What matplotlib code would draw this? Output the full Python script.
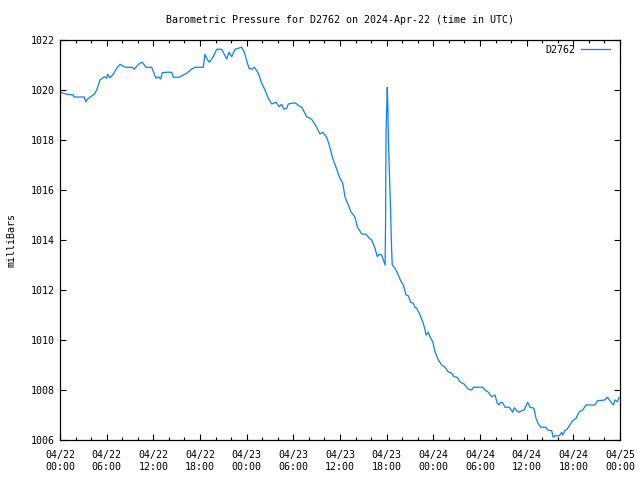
import matplotlib
matplotlib.use("Agg")
import matplotlib.pyplot as plt
from matplotlib.ticker import MultipleLocator

# hours since 2024-04-22 00:00 UTC
hours = [0.0, 0.42, 0.86, 1.71, 1.8, 3.12, 3.3, 3.64, 4.41, 4.72, 5.14, 5.7, 6.0, 6.13, 6.43,
         6.85, 7.29, 7.71, 8.36, 9.3, 9.55, 10.07, 10.58, 11.06, 11.79, 12.34, 12.64, 12.95,
         13.15, 13.72, 14.36, 14.57, 15.3, 15.85, 16.29, 16.93, 17.36, 18.42, 18.64, 18.86,
         19.2, 19.71, 20.15, 20.79, 21.43, 21.73, 22.08, 22.5, 23.36, 23.7, 23.91, 24.3,
         24.65, 24.98, 25.5, 25.93, 26.36, 26.78, 27.22, 27.77, 28.2, 28.5, 28.8, 29.15,
         29.35, 30.21, 30.77, 31.08, 31.72, 32.36, 33.0, 33.43, 33.78, 34.29, 34.62, 35.06,
         35.49, 35.91, 36.35, 36.64, 37.07, 37.41, 37.93, 38.22, 38.79, 39.34, 39.77, 40.08,
         40.5, 40.8, 41.05, 41.36, 41.57, 41.8,
         41.86, 41.92, 42.08, 42.15, 42.22, 42.36, 42.5, 42.63, 42.72,
         43.07, 43.37, 43.71, 43.8, 44.14, 44.49, 44.78, 45.09, 45.42, 45.64, 45.86, 46.29,
         46.71, 46.93, 47.06, 47.35, 47.57, 47.92, 48.21, 48.64, 49.07, 49.5, 49.92, 50.36,
         50.66, 51.08, 51.43, 51.94, 52.5, 52.93, 53.14, 54.35, 54.64, 55.07, 55.5, 55.93,
         56.22, 56.44, 56.66, 56.92, 57.21, 57.77, 58.2, 58.41, 58.72, 59.05, 59.36, 59.66,
         60.13, 60.43, 60.94, 61.2, 61.5, 61.84, 62.49, 62.7, 63.22, 63.42, 63.64, 64.2,
         64.5, 64.63, 64.93, 65.22, 65.48, 65.92, 66.34, 66.77, 67.2, 67.63, 68.79, 69.08,
         70.07, 70.37, 70.71, 71.14, 71.36, 71.65, 71.9]

pressure = [1019.91, 1019.87, 1019.83, 1019.8, 1019.72, 1019.72, 1019.53, 1019.67, 1019.83,
            1020.0, 1020.4, 1020.53, 1020.47, 1020.63, 1020.49, 1020.63, 1020.87, 1021.03,
            1020.91, 1020.91, 1020.83, 1021.03, 1021.11, 1020.91, 1020.91, 1020.47, 1020.53,
            1020.44, 1020.69, 1020.71, 1020.71, 1020.51, 1020.51, 1020.6, 1020.67, 1020.84,
            1020.91, 1020.91, 1021.43, 1021.27, 1021.11, 1021.33, 1021.63, 1021.63, 1021.24,
            1021.51, 1021.33, 1021.63, 1021.71, 1021.51, 1021.27, 1020.87, 1020.83, 1020.91,
            1020.67, 1020.27, 1020.0, 1019.67, 1019.44, 1019.51, 1019.33, 1019.43, 1019.23,
            1019.27, 1019.44, 1019.49, 1019.36, 1019.31, 1018.93, 1018.83, 1018.51, 1018.24,
            1018.31, 1018.11, 1017.8, 1017.27, 1016.91, 1016.53, 1016.27, 1015.73, 1015.4,
            1015.13, 1014.91, 1014.53, 1014.24, 1014.23, 1014.07, 1014.0, 1013.67, 1013.33,
            1013.43, 1013.4, 1013.2, 1013.0,
            1014.8, 1018.3, 1020.1, 1019.4, 1018.0, 1016.6, 1015.2, 1013.7, 1013.0,
            1012.87, 1012.69, 1012.43, 1012.37, 1012.2, 1011.8, 1011.77, 1011.51, 1011.47,
            1011.31, 1011.27, 1011.0, 1010.67, 1010.4, 1010.2, 1010.31, 1010.13, 1009.93,
            1009.53, 1009.2, 1009.0, 1008.91, 1008.73, 1008.67, 1008.53, 1008.51, 1008.32,
            1008.24, 1008.03, 1008.0, 1008.11, 1008.11, 1008.0, 1007.91, 1007.73, 1007.8,
            1007.47, 1007.4, 1007.51, 1007.49, 1007.31, 1007.31, 1007.11, 1007.29, 1007.17,
            1007.11, 1007.17, 1007.2, 1007.51, 1007.31, 1007.27, 1006.87, 1006.64, 1006.51,
            1006.51, 1006.4, 1006.37, 1006.11, 1006.17, 1006.17, 1006.31, 1006.2, 1006.37,
            1006.44, 1006.57, 1006.77, 1006.87, 1007.13, 1007.2, 1007.4, 1007.4, 1007.57,
            1007.6, 1007.71, 1007.57, 1007.4, 1007.6, 1007.53, 1007.71]

x_ticks = [0, 6, 12, 18, 24, 30, 36, 42, 48, 54, 60, 66, 72]
x_labels = ["04/22\n00:00", "04/22\n06:00", "04/22\n12:00", "04/22\n18:00",
            "04/23\n00:00", "04/23\n06:00", "04/23\n12:00", "04/23\n18:00",
            "04/24\n00:00", "04/24\n06:00", "04/24\n12:00", "04/24\n18:00",
            "04/25\n00:00"]
y_ticks = [1006, 1008, 1010, 1012, 1014, 1016, 1018, 1020, 1022]

plt.rcParams['font.family'] = ['DejaVu Sans Mono']
plt.rcParams['font.size'] = 7.2

fig = plt.figure(figsize=(6.4, 4.8), dpi=100)
ax = fig.add_axes([60/640, 1-440/480, 560/640, 400/480])

ax.plot(hours, pressure, color='#0a80ff', lw=0.9, label='D2762')

ax.set_xlim(0, 72)
ax.set_ylim(1006, 1022)
ax.set_xticks(x_ticks)
ax.set_xticklabels(x_labels, linespacing=1.3)
ax.xaxis.set_minor_locator(MultipleLocator(2))
ax.set_yticks(y_ticks)
ax.set_yticklabels([str(v) for v in y_ticks])

ax.tick_params(axis='both', which='major', direction='in', length=4, width=0.8,
               top=True, right=True, labelsize=7.2, color='black')
ax.tick_params(axis='x', which='major', pad=7)
ax.tick_params(axis='y', which='major', pad=4)
ax.tick_params(axis='x', which='minor', direction='in', length=2.5, width=0.8,
               top=True, bottom=True)
for sp in ax.spines.values():
    sp.set_linewidth(0.9)

ax.set_ylabel('milliBars', fontsize=7.2, labelpad=10)
ax.set_title('Barometric Pressure for D2762 on 2024-Apr-22 (time in UTC)',
             fontsize=7.2, pad=12)

ax.legend(loc='upper right', frameon=False, markerfirst=False, fontsize=7.2,
          handlelength=2.9, handletextpad=0.6, borderpad=0, borderaxespad=0,
          bbox_to_anchor=(550/560, 395/400))

fig.savefig('out.png', dpi=100)
